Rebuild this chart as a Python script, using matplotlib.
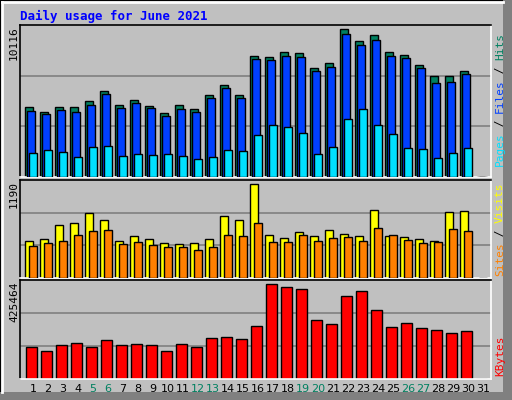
import numpy as np
import matplotlib
matplotlib.use("Agg")
import matplotlib.pyplot as plt
from matplotlib.patches import Rectangle

days = np.arange(1, 32)
weekend = [5, 6, 12, 13, 19, 20, 26, 27]

hits = [4785, 4443, 4785, 4785, 5195, 5878, 4921, 5263, 4853, 4374, 4921, 4648, 5605, 6288, 5605,
        8270, 8202, 8544, 8475, 7450, 7792, 10116, 9296, 9706, 8544, 8339, 7655, 6903, 6903, 7245, 0]
files = [4511, 4306, 4579, 4443, 4921, 5673, 4716, 5058, 4716, 4169, 4648, 4443, 5400, 6083, 5400,
         8065, 7997, 8270, 8202, 7245, 7519, 9774, 9022, 9364, 8270, 8134, 7450, 6425, 6493, 7040, 0]
pages = [1640, 1845, 1709, 1367, 2051, 2119, 1435, 1572, 1504, 1572, 1435, 1230, 1367, 1845, 1777,
         2871, 3554, 3418, 3007, 1572, 2051, 3964, 4648, 3554, 2939, 1982, 1914, 1299, 1640, 1982, 0]
visits = [466, 491, 669, 695, 822, 733, 466, 530, 491, 441, 428, 441, 491, 784, 733,
          1190, 542, 504, 580, 530, 606, 555, 530, 860, 530, 517, 491, 466, 834, 847, 0]
sites = [403, 441, 466, 542, 593, 606, 428, 453, 415, 390, 390, 352, 390, 542, 530,
         695, 453, 453, 542, 466, 504, 517, 466, 631, 542, 479, 441, 453, 618, 593, 0]
kbytes = [142400, 124500, 151400, 160400, 142400, 173900, 151400, 155900, 151400, 124500, 155900,
          142400, 182900, 187400, 178400, 236800, 425464, 412000, 403000, 263700, 245800, 371600,
          394000, 308700, 232300, 250300, 227800, 218800, 205300, 214300, 0]

BG = "#c0c0c0"
C_HITS, C_FILES, C_PAGES = "#008060", "#0040ff", "#00e0ff"
C_VIS, C_SITES, C_KB = "#ffff00", "#ff8000", "#ff0000"
MONO = "DejaVu Sans Mono"

W, H = 512, 400
fig = plt.figure(figsize=(W / 100, H / 100), dpi=100, facecolor=BG)

def px(x, y):
    return x / W, 1 - y / H

# bevelled frame
fig.patches.append(Rectangle((0, 0), 1, 1, transform=fig.transFigure, fill=False, ec="black", lw=2))
fig.patches.append(Rectangle(px(503, 400), 9 / W, 1, transform=fig.transFigure, fc="#808080", ec="none"))
fig.patches.append(Rectangle((0, 0), 1, 8 / H, transform=fig.transFigure, fc="#808080", ec="none"))
fig.add_artist(plt.Line2D([2 / W, 2 / W], [8 / H, 1 - 2 / H], color="white", lw=2, transform=fig.transFigure))
fig.add_artist(plt.Line2D([2 / W, 503 / W], [1 - 2 / H, 1 - 2 / H], color="white", lw=2, transform=fig.transFigure))

def panel(top, bottom):
    l, b = px(20, bottom)
    ax = fig.add_axes([l, b, (491 - 20) / W, (bottom - top) / H])
    ax.set_facecolor(BG)
    ax.set_xlim(0.133, 31.533)
    ax.set_xticks([])
    ax.set_yticks([])
    for s in ("top", "left"):
        ax.spines[s].set_color("black")
    for s in ("bottom", "right"):
        ax.spines[s].set_color("white")
    for sp in ax.spines.values():
        sp.set_linewidth(1.2)
    return ax

def grid(ax, top):
    for f in (1 / 3, 2 / 3):
        ax.axhline(top * f, color="#808080", lw=1.2, zorder=1)

# top panel
ax1 = panel(25, 177)
top1 = 10116 * 152 / 148
ax1.set_ylim(0, top1)
grid(ax1, top1)
ax1.bar(days - 0.51, hits, width=0.51, align="edge", color=C_HITS, ec="black", lw=1, zorder=2)
ax1.bar(days - 0.40, files, width=0.51, align="edge", color=C_FILES, ec="black", lw=1, zorder=3)
ax1.bar(days - 0.27, pages, width=0.51, align="edge", color=C_PAGES, ec="black", lw=1, zorder=4)

# middle panel
ax2 = panel(180, 278)
top2 = 1190 * 98 / 94
ax2.set_ylim(0, top2)
grid(ax2, top2)
ax2.bar(days - 0.51, visits, width=0.53, align="edge", color=C_VIS, ec="black", lw=1, zorder=2)
ax2.bar(days - 0.25, sites, width=0.50, align="edge", color=C_SITES, ec="black", lw=1, zorder=3)

# bottom panel
ax3 = panel(280, 379)
top3 = 425464 * 99 / 94.7
ax3.set_ylim(0, top3)
grid(ax3, top3)
ax3.bar(days - 0.1, kbytes, width=0.73, color=C_KB, ec="black", lw=1, zorder=2)

# title and max labels
fig.text(*px(20, 16), "Daily usage for June 2021", color="#0000ff", fontsize=9,
         fontweight="bold", family=MONO, va="center", ha="left")
for y, lab in ((26, "10116"), (181, "1190"), (281, "425464")):
    fig.text(*px(14, y), lab, rotation=90, fontsize=8, family=MONO, ha="center", va="top")

# day labels
for d in days:
    x = 33 + 15 * (d - 1)
    fig.text(*px(x, 389), str(d), fontsize=8, ha="center", va="center",
             color="#008060" if d in weekend else "black")

# right-hand legends, stacked vertically
def stacked(y_bottom, parts, step=6.6):
    y = y_bottom
    for txt, col in parts:
        fig.text(*px(500, y), txt, rotation=90, fontsize=8, family=MONO, color=col,
                 ha="center", va="bottom")
        y -= step * len(txt)

stacked(166, [("Pages", C_PAGES), (" / ", "black"), ("Files", C_FILES), (" / ", "black"), ("Hits", C_HITS)])
stacked(276, [("Sites", C_SITES), (" / ", "black"), ("Visits", C_VIS)])
stacked(376, [("KBytes", C_KB)])

fig.savefig("out.png", dpi=100, facecolor=BG)
